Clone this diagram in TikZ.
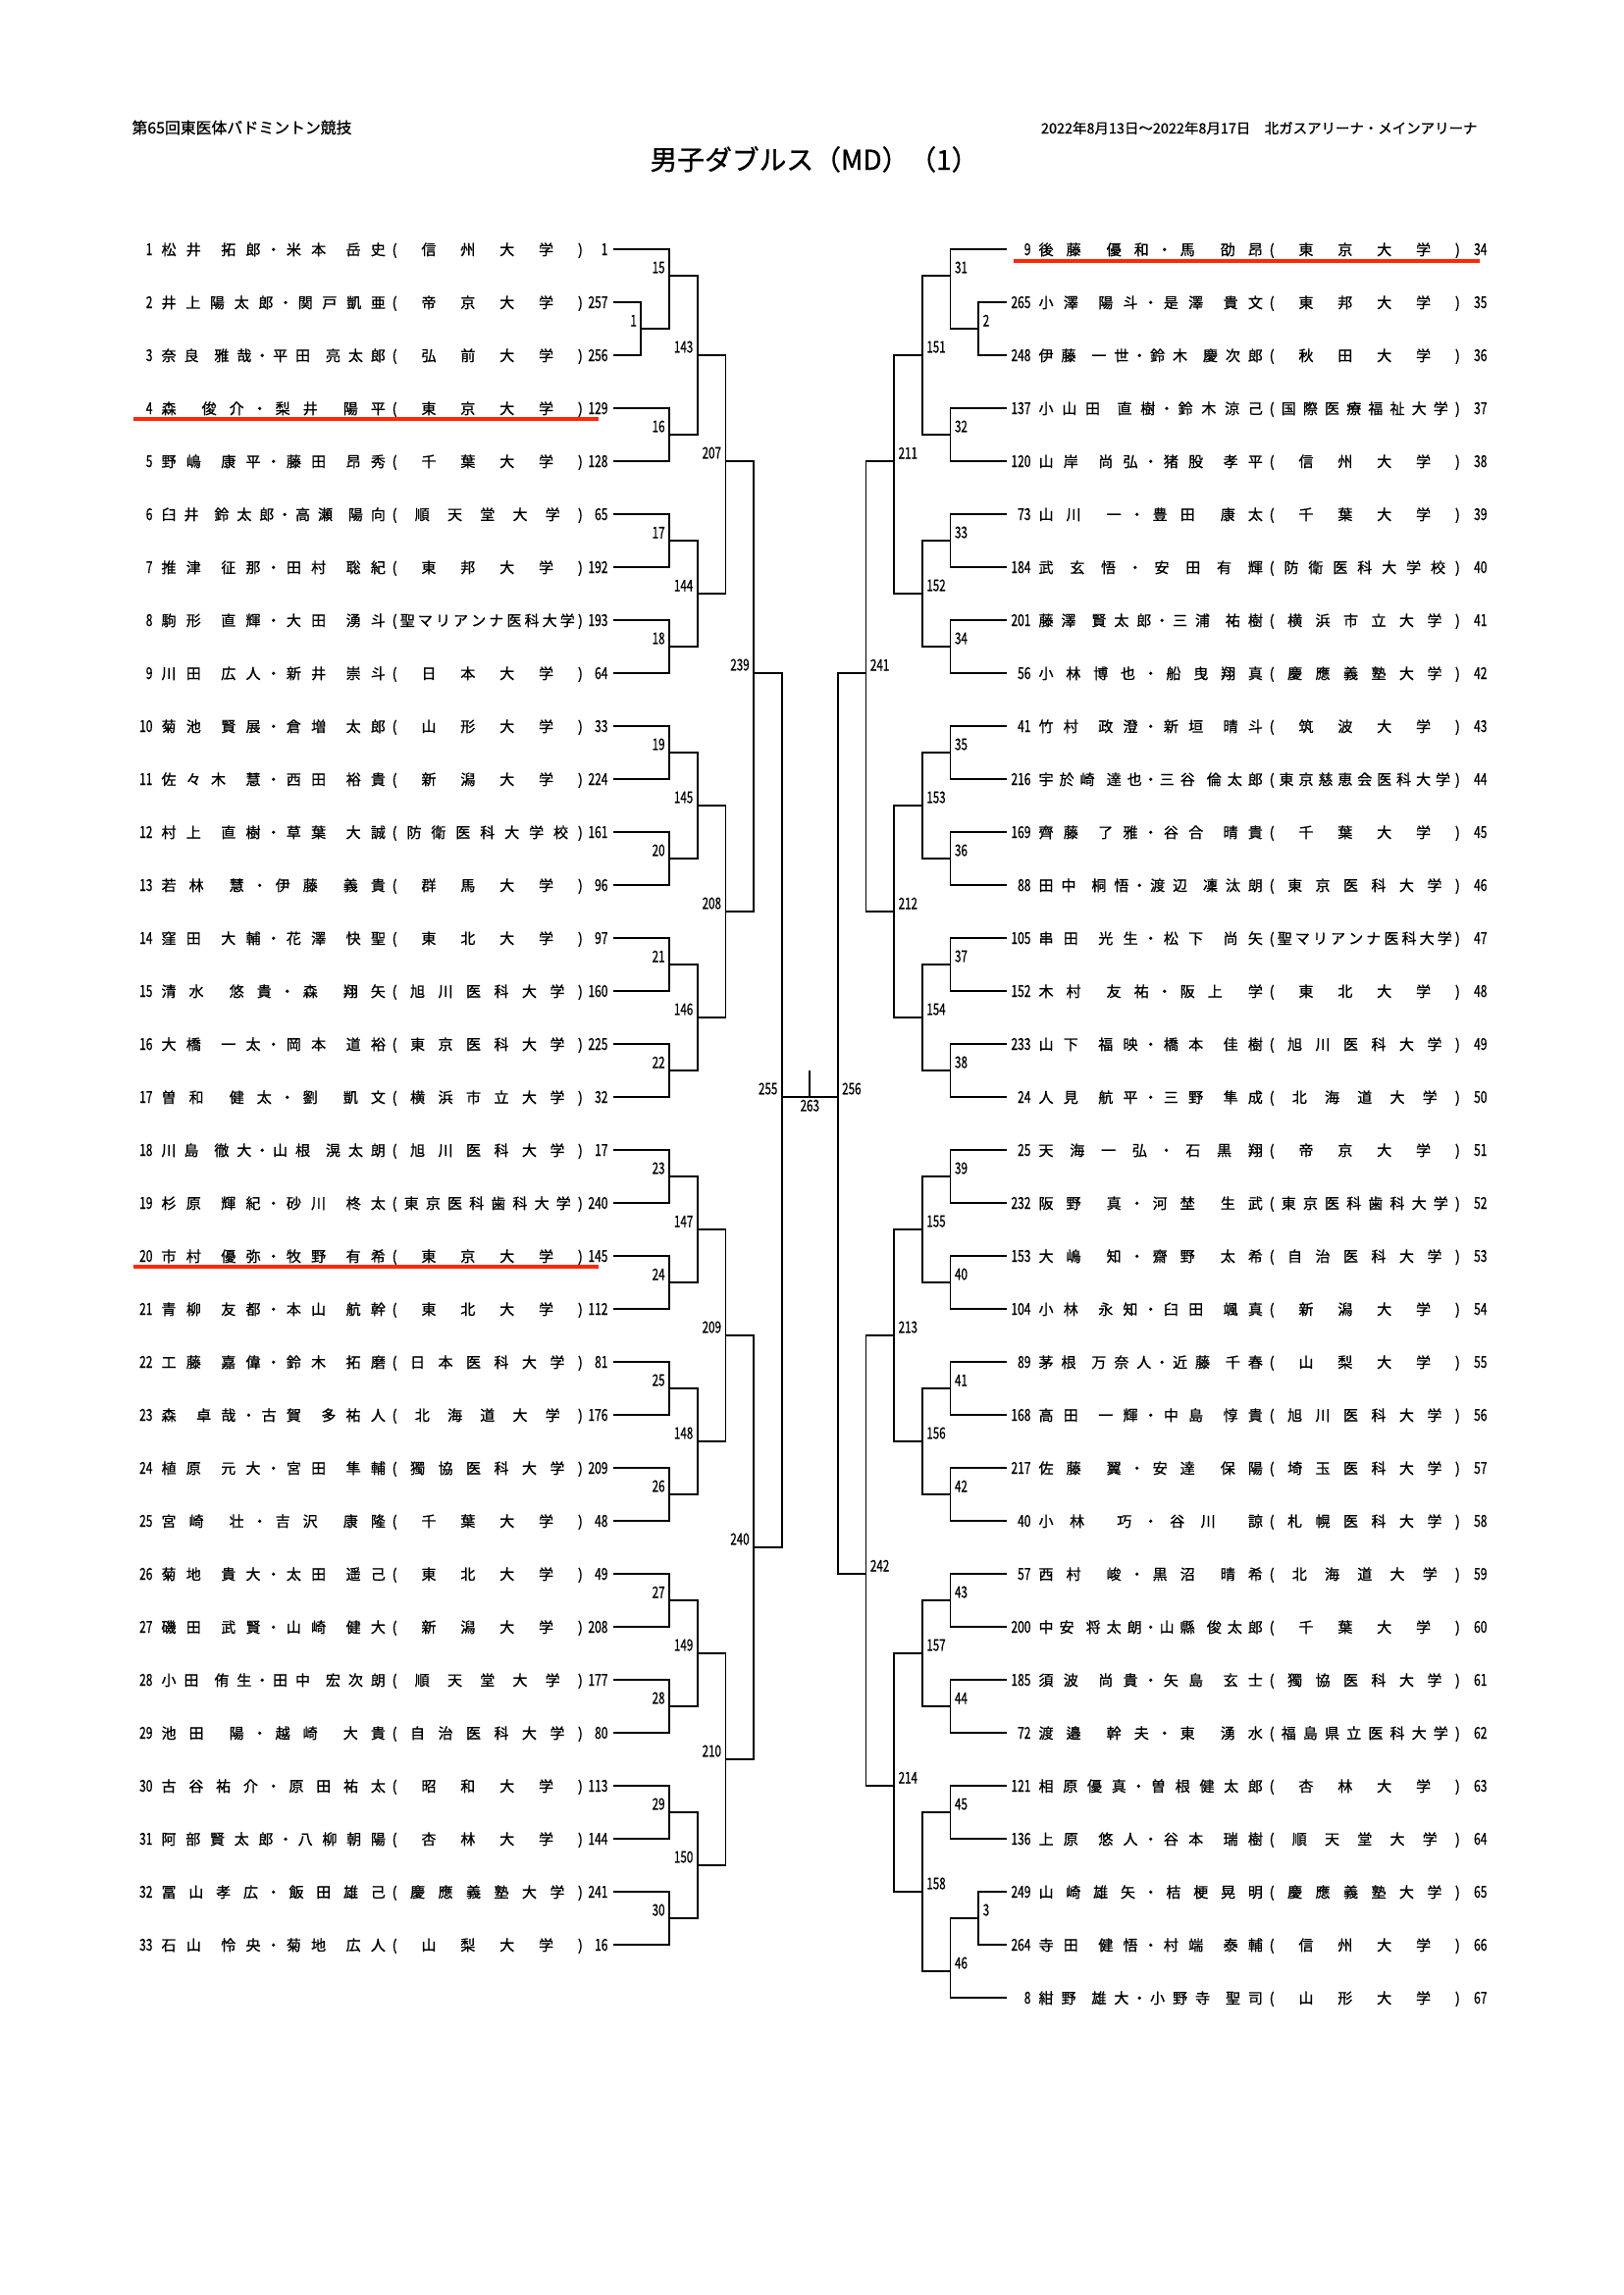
\documentclass[tikz,border=0pt]{standalone}
\usepackage{fontspec}
\usepackage{graphicx}
\usepackage{tikz}
\setmainfont{Noto Sans CJK JP}[FakeBold=1]
\definecolor{hilite}{RGB}{255,40,0}
\newlength\namew \setlength\namew{82.2pt}
\newlength\univw \setlength\univw{70pt}

% distribute the characters of a name over a fixed width (| = gap)
\makeatletter
\def\sp@stop{\sp@stop}
\def\sp@item#1{%
  \ifx#1\sp@stop
    \let\sp@next\unskip
  \else
    \ifx#1|\else\ifx#1・\makebox[.39em]{・}\else#1\fi\fi\hfil
    \let\sp@next\sp@item
  \fi\sp@next}
\newcommand\spread[2]{\edef\sp@list{#2}\makebox[#1][s]{\expandafter\sp@item\sp@list\sp@stop}}
\makeatother
\newcommand\nar[1]{\scalebox{.72}[1]{#1}}

% one entry of the left / right half
\newcommand\lrow[5]{%
  \node[numtext, anchor=base east] (Ls#1) at (156,{260+54*(#1-1)}) {\nar{#2}};
  \node[entrytext, anchor=base west] (Lm#1) at (164,{260+54*(#1-1)}) {\spread{\namew}{#3}};
  \node[entrytext, anchor=base west] (Lu#1) at (399,{260+54*(#1-1)}) {\spread{\univw}{(#4)}};
  \node[numtext, anchor=base east] (Ln#1) at (620,{260+54*(#1-1)}) {\nar{#5}};
  \coordinate (L#1) at (625,{254+54*(#1-1)});}
\newcommand\rrow[5]{%
  \node[numtext, anchor=base east] (Rs#1) at (1051,{260+54*(#1-1)}) {\nar{#2}};
  \node[entrytext, anchor=base west] (Rm#1) at (1058,{260+54*(#1-1)}) {\spread{\namew}{#3}};
  \node[entrytext, anchor=base west] (Ru#1) at (1293,{260+54*(#1-1)}) {\spread{\univw}{(#4)}};
  \node[numtext, anchor=base east] (Rn#1) at (1516,{260+54*(#1-1)}) {\nar{#5}};
  \coordinate (R#1) at (1026,{254+54*(#1-1)});}

% one match: id, x, y of the way out, the two sides
\newcommand\lmatch[5]{%
  \coordinate (m#1) at (#2,#3);
  \draw[brk] (#4) -- (#4 -| m#1) -- (#5 -| m#1) -- (#5);
  \node[lbll] (t#1) at (m#1) {\nar{#1}};}
\newcommand\rmatch[5]{%
  \coordinate (m#1) at (#2,#3);
  \draw[brk] (#4) -- (#4 -| m#1) -- (#5 -| m#1) -- (#5);
  \node[lblr] (t#1) at (m#1) {\nar{#1}};}

\begin{document}
\begin{tikzpicture}[x=0.36pt,y=0.36pt,yscale=-1,
  brk/.style={line width=0.6pt},
  entrytext/.style={inner sep=0pt, font=\fontsize{5.4}{6}\selectfont},
  numtext/.style={inner sep=0pt, font=\fontsize{6}{7}\selectfont},
  lbll/.style={anchor=south east, inner xsep=1.4pt, inner ysep=0.7pt, font=\fontsize{5.8}{6}\selectfont},
  lblr/.style={anchor=south west, inner xsep=1.4pt, inner ysep=0.7pt, font=\fontsize{5.8}{6}\selectfont},
  redline/.style={draw=hilite, line width=1.3pt}]
\fill[white] (0,0) rectangle (1654,2339);

%Headings
\node[anchor=base west, inner sep=0pt, font=\fontsize{5.7}{7}\selectfont] (hdl) at (134,136) {第65回東医体バドミントン競技};
\node[anchor=base east, inner sep=0pt, font=\fontsize{5.2}{7}\selectfont] (hdr) at (1506,136) {2022年8月13日～2022年8月17日　北ガスアリーナ・メインアリーナ};
\node[anchor=base west, inner sep=0pt, font=\fontsize{10}{12}\selectfont] (title) at (662,173) {男子ダブルス（MD）（1）};

%Left entries
\lrow{1}{1}{松井|拓郎・米本|岳史}{信州大学}{1}
\lrow{2}{2}{井上陽太郎・関戸凱亜}{帝京大学}{257}
\lrow{3}{3}{奈良|雅哉・平田|亮太郎}{弘前大学}{256}
\lrow{4}{4}{森|俊介・梨井|陽平}{東京大学}{129}
\lrow{5}{5}{野嶋|康平・藤田|昂秀}{千葉大学}{128}
\lrow{6}{6}{臼井|鈴太郎・高瀬|陽向}{順天堂大学}{65}
\lrow{7}{7}{推津|征那・田村|聡紀}{東邦大学}{192}
\lrow{8}{8}{駒形|直輝・大田|湧斗}{聖マリアンナ医科大学}{193}
\lrow{9}{9}{川田|広人・新井|崇斗}{日本大学}{64}
\lrow{10}{10}{菊池|賢展・倉増|太郎}{山形大学}{33}
\lrow{11}{11}{佐々木|慧・西田|裕貴}{新潟大学}{224}
\lrow{12}{12}{村上|直樹・草葉|大誠}{防衛医科大学校}{161}
\lrow{13}{13}{若林|慧・伊藤|義貴}{群馬大学}{96}
\lrow{14}{14}{窪田|大輔・花澤|快聖}{東北大学}{97}
\lrow{15}{15}{清水|悠貴・森|翔矢}{旭川医科大学}{160}
\lrow{16}{16}{大橋|一太・岡本|道裕}{東京医科大学}{225}
\lrow{17}{17}{曽和|健太・劉|凱文}{横浜市立大学}{32}
\lrow{18}{18}{川島|徹大・山根|滉太朗}{旭川医科大学}{17}
\lrow{19}{19}{杉原|輝紀・砂川|柊太}{東京医科歯科大学}{240}
\lrow{20}{20}{市村|優弥・牧野|有希}{東京大学}{145}
\lrow{21}{21}{青柳|友都・本山|航幹}{東北大学}{112}
\lrow{22}{22}{工藤|嘉偉・鈴木|拓磨}{日本医科大学}{81}
\lrow{23}{23}{森|卓哉・古賀|多祐人}{北海道大学}{176}
\lrow{24}{24}{植原|元大・宮田|隼輔}{獨協医科大学}{209}
\lrow{25}{25}{宮崎|壮・吉沢|康隆}{千葉大学}{48}
\lrow{26}{26}{菊地|貴大・太田|遥己}{東北大学}{49}
\lrow{27}{27}{磯田|武賢・山崎|健大}{新潟大学}{208}
\lrow{28}{28}{小田|侑生・田中|宏次朗}{順天堂大学}{177}
\lrow{29}{29}{池田|陽・越崎|大貴}{自治医科大学}{80}
\lrow{30}{30}{古谷祐介・原田祐太}{昭和大学}{113}
\lrow{31}{31}{阿部賢太郎・八柳朝陽}{杏林大学}{144}
\lrow{32}{32}{冨山孝広・飯田雄己}{慶應義塾大学}{241}
\lrow{33}{33}{石山|怜央・菊地|広人}{山梨大学}{16}

%Right entries
\rrow{1}{9}{後藤|優和・馬|劭昂}{東京大学}{34}
\rrow{2}{265}{小澤|陽斗・是澤|貴文}{東邦大学}{35}
\rrow{3}{248}{伊藤|一世・鈴木|慶次郎}{秋田大学}{36}
\rrow{4}{137}{小山田|直樹・鈴木涼己}{国際医療福祉大学}{37}
\rrow{5}{120}{山岸|尚弘・猪股|孝平}{信州大学}{38}
\rrow{6}{73}{山川|一・豊田|康太}{千葉大学}{39}
\rrow{7}{184}{武玄悟・安田有輝}{防衛医科大学校}{40}
\rrow{8}{201}{藤澤|賢太郎・三浦|祐樹}{横浜市立大学}{41}
\rrow{9}{56}{小林博也・船曳翔真}{慶應義塾大学}{42}
\rrow{10}{41}{竹村|政澄・新垣|晴斗}{筑波大学}{43}
\rrow{11}{216}{宇於崎|達也・三谷|倫太郎}{東京慈恵会医科大学}{44}
\rrow{12}{169}{齊藤|了雅・谷合|晴貴}{千葉大学}{45}
\rrow{13}{88}{田中|桐悟・渡辺|凜汰朗}{東京医科大学}{46}
\rrow{14}{105}{串田|光生・松下|尚矢}{聖マリアンナ医科大学}{47}
\rrow{15}{152}{木村|友祐・阪上|学}{東北大学}{48}
\rrow{16}{233}{山下|福映・橋本|佳樹}{旭川医科大学}{49}
\rrow{17}{24}{人見|航平・三野|隼成}{北海道大学}{50}
\rrow{18}{25}{天海一弘・石黒翔}{帝京大学}{51}
\rrow{19}{232}{阪野|真・河埜|生武}{東京医科歯科大学}{52}
\rrow{20}{153}{大嶋|知・齋野|太希}{自治医科大学}{53}
\rrow{21}{104}{小林|永知・臼田|颯真}{新潟大学}{54}
\rrow{22}{89}{茅根|万奈人・近藤|千春}{山梨大学}{55}
\rrow{23}{168}{高田|一輝・中島|惇貴}{旭川医科大学}{56}
\rrow{24}{217}{佐藤|翼・安達|保陽}{埼玉医科大学}{57}
\rrow{25}{40}{小林|巧・谷川|諒}{札幌医科大学}{58}
\rrow{26}{57}{西村|峻・黒沼|晴希}{北海道大学}{59}
\rrow{27}{200}{中安|将太朗・山縣|俊太郎}{千葉大学}{60}
\rrow{28}{185}{須波|尚貴・矢島|玄士}{獨協医科大学}{61}
\rrow{29}{72}{渡邉|幹夫・東|湧水}{福島県立医科大学}{62}
\rrow{30}{121}{相原優真・曽根健太郎}{杏林大学}{63}
\rrow{31}{136}{上原|悠人・谷本|瑞樹}{順天堂大学}{64}
\rrow{32}{249}{山崎雄矢・桔梗晃明}{慶應義塾大学}{65}
\rrow{33}{264}{寺田|健悟・村端|泰輔}{信州大学}{66}
\rrow{34}{8}{紺野|雄大・小野寺|聖司}{山形大学}{67}

%Left bracket
\lmatch{1}{653.3}{335}{L2}{L3}
\lmatch{15}{682}{281}{L1}{m1}
\lmatch{16}{682}{443}{L4}{L5}
\lmatch{17}{682}{551}{L6}{L7}
\lmatch{18}{682}{659}{L8}{L9}
\lmatch{19}{682}{767}{L10}{L11}
\lmatch{20}{682}{875}{L12}{L13}
\lmatch{21}{682}{983}{L14}{L15}
\lmatch{22}{682}{1091}{L16}{L17}
\lmatch{23}{682}{1199}{L18}{L19}
\lmatch{24}{682}{1307}{L20}{L21}
\lmatch{25}{682}{1415}{L22}{L23}
\lmatch{26}{682}{1523}{L24}{L25}
\lmatch{27}{682}{1631}{L26}{L27}
\lmatch{28}{682}{1739}{L28}{L29}
\lmatch{29}{682}{1847}{L30}{L31}
\lmatch{30}{682}{1955}{L32}{L33}
\lmatch{143}{710.7}{362}{m15}{m16}
\lmatch{144}{710.7}{605}{m17}{m18}
\lmatch{145}{710.7}{821}{m19}{m20}
\lmatch{146}{710.7}{1037}{m21}{m22}
\lmatch{147}{710.7}{1253}{m23}{m24}
\lmatch{148}{710.7}{1469}{m25}{m26}
\lmatch{149}{710.7}{1685}{m27}{m28}
\lmatch{150}{710.7}{1901}{m29}{m30}
\lmatch{207}{739.4}{470}{m143}{m144}
\lmatch{208}{739.4}{929}{m145}{m146}
\lmatch{209}{739.4}{1361}{m147}{m148}
\lmatch{210}{739.4}{1793}{m149}{m150}
\lmatch{239}{768.1}{686}{m207}{m208}
\lmatch{240}{768.1}{1577}{m209}{m210}
\lmatch{255}{796.8}{1118}{m239}{m240}

%Right bracket
\rmatch{2}{997.3}{335}{R2}{R3}
\rmatch{31}{968.6}{281}{R1}{m2}
\rmatch{32}{968.6}{443}{R4}{R5}
\rmatch{33}{968.6}{551}{R6}{R7}
\rmatch{34}{968.6}{659}{R8}{R9}
\rmatch{35}{968.6}{767}{R10}{R11}
\rmatch{36}{968.6}{875}{R12}{R13}
\rmatch{37}{968.6}{983}{R14}{R15}
\rmatch{38}{968.6}{1091}{R16}{R17}
\rmatch{39}{968.6}{1199}{R18}{R19}
\rmatch{40}{968.6}{1307}{R20}{R21}
\rmatch{41}{968.6}{1415}{R22}{R23}
\rmatch{42}{968.6}{1523}{R24}{R25}
\rmatch{43}{968.6}{1631}{R26}{R27}
\rmatch{44}{968.6}{1739}{R28}{R29}
\rmatch{45}{968.6}{1847}{R30}{R31}
\rmatch{3}{997.3}{1955}{R32}{R33}
\rmatch{46}{968.6}{2009}{m3}{R34}
\rmatch{151}{939.9}{362}{m31}{m32}
\rmatch{152}{939.9}{605}{m33}{m34}
\rmatch{153}{939.9}{821}{m35}{m36}
\rmatch{154}{939.9}{1037}{m37}{m38}
\rmatch{155}{939.9}{1253}{m39}{m40}
\rmatch{156}{939.9}{1469}{m41}{m42}
\rmatch{157}{939.9}{1685}{m43}{m44}
\rmatch{158}{939.9}{1928}{m45}{m46}
\rmatch{211}{911.2}{470}{m151}{m152}
\rmatch{212}{911.2}{929}{m153}{m154}
\rmatch{213}{911.2}{1361}{m155}{m156}
\rmatch{214}{911.2}{1820}{m157}{m158}
\rmatch{241}{882.5}{686}{m211}{m212}
\rmatch{242}{882.5}{1604}{m213}{m214}
\rmatch{256}{853.8}{1118}{m241}{m242}

%Final
\coordinate (c263) at (825.3,1118);
\coordinate (c263t) at (825.3,1091);
\draw[brk] (m255) -- (m256);
\draw[brk] (c263) -- (c263t);
\node[anchor=north, inner sep=0pt, yshift=-0.8pt, font=\fontsize{5.8}{6}\selectfont] (t263) at (c263) {\nar{263}};

%Underlines
\draw[redline] (135.5,427) -- (609.8,427);
\draw[redline] (135.5,1291) -- (609.8,1291);
\draw[redline] (1033,266) -- (1507.5,266);

\end{tikzpicture}
\end{document}
